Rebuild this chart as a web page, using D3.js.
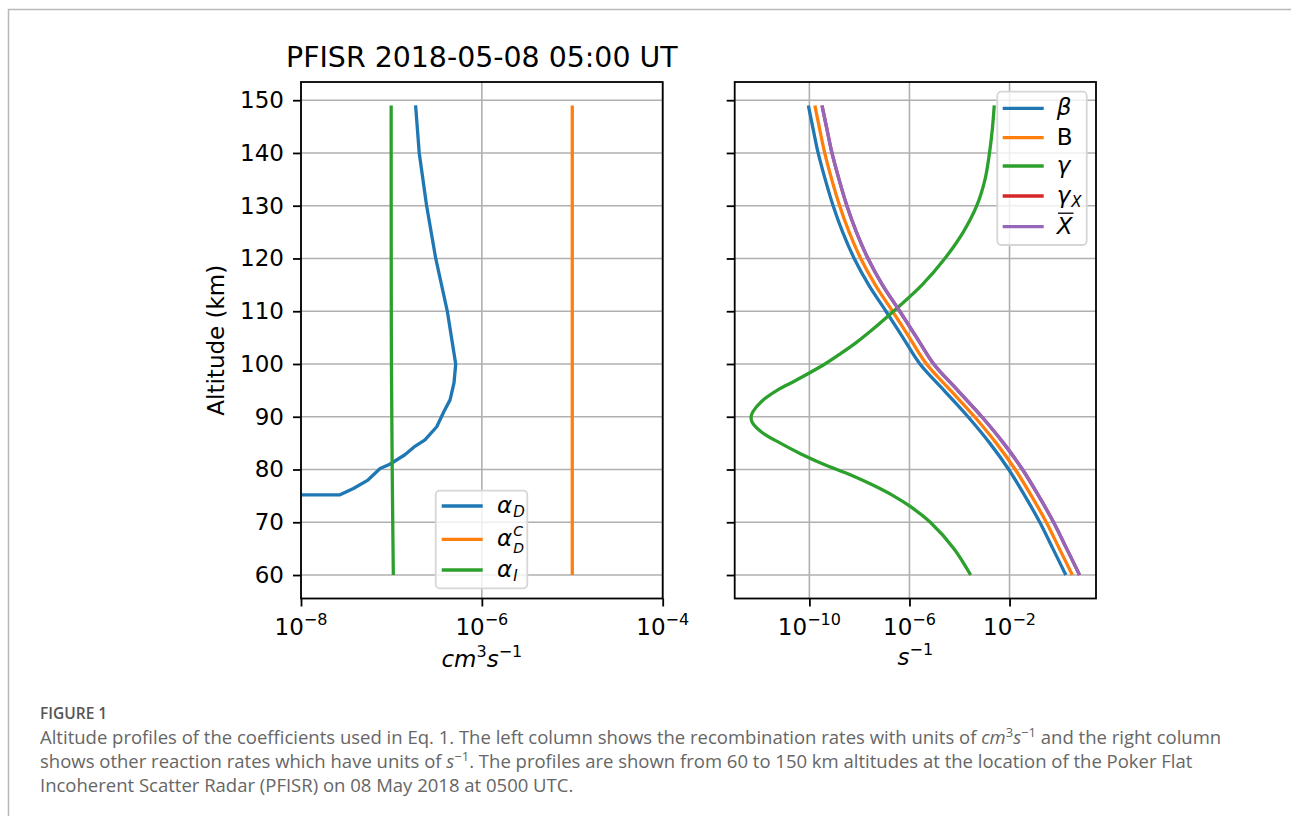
<!DOCTYPE html>
<html>
<head>
<meta charset="utf-8">
<script src="https://cdn.jsdelivr.net/npm/d3@7"></script>
<style>
body { margin: 0; background: #fff; }
svg text { font-family: "DejaVu Sans", sans-serif; }
</style>
</head>
<body>
<svg width="1291" height="816"></svg>
<script>
// ---- data ----
// left panel, recombination rates (cm^3 s^-1)
var altAlphaD = [149, 140, 130, 120, 110, 100, 96.4, 93.2, 91, 88.1, 85.6, 84.4, 82.8, 81, 80.2, 78, 76.4, 75.2, 75, 60];
var alphaD = [1.85e-7, 2.03e-7, 2.45e-7, 3.09e-7, 4.15e-7, 5.14e-7, 4.92e-7, 4.45e-7, 3.81e-7, 3.17e-7,
              2.35e-7, 1.82e-7, 1.41e-7, 9.6e-8, 7.5e-8, 5.5e-8, 3.8e-8, 2.7e-8, 0, 0];
var altAlphaDC = [149, 60];
var alphaDC = [1e-5, 1e-5];
var altAlphaI = [149, 120, 100, 80, 60];
var alphaI = [9.93e-8, 9.95e-8, 1.0e-7, 1.02e-7, 1.05e-7];

// right panel, other reaction rates (s^-1)
var altRates = [149, 145, 140, 135, 130, 125, 120, 115, 110, 105, 100, 95, 90, 85, 80, 75, 70, 65, 60];
var beta = [9.1e-11, 1.35e-10, 2.24e-10, 4.3e-10, 8.9e-10, 2.14e-9, 6.2e-9, 2.34e-8, 1.15e-7, 5.5e-7,
            2.63e-6, 2.4e-5, 2.19e-4, 1.62e-3, 9.3e-3, 4.1e-2, 0.162, 0.54, 1.78];
var bigB = [1.66e-10, 2.46e-10, 4.1e-10, 7.8e-10, 1.62e-9, 3.9e-9, 1.13e-8, 4.3e-8, 2.1e-7, 1.0e-6,
            4.8e-6, 4.4e-5, 4.0e-4, 2.95e-3, 1.69e-2, 7.5e-2, 0.295, 0.98, 3.24];
var gammaX = [3.2e-10, 4.8e-10, 8.0e-10, 1.53e-9, 3.16e-9, 7.6e-9, 2.2e-8, 8.3e-8, 4.1e-7, 1.95e-6,
              9.3e-6, 8.5e-5, 7.8e-4, 5.75e-3, 3.3e-2, 0.146, 0.575, 1.92, 6.3];
var xBar = [3.2e-10, 4.8e-10, 8.0e-10, 1.53e-9, 3.16e-9, 7.6e-9, 2.2e-8, 8.3e-8, 4.1e-7, 1.95e-6,
            9.3e-6, 8.5e-5, 7.8e-4, 5.75e-3, 3.3e-2, 0.146, 0.575, 1.92, 6.3];
var altGamma = [149, 145, 140, 135, 130, 125, 120, 115, 110, 106, 104, 102, 100, 97, 95, 93, 91, 90, 89, 87, 85, 83, 81, 79, 77, 75, 73, 70, 65, 60];
var gamma = [2.45e-3, 2.1e-3, 1.58e-3, 1.05e-3, 4.9e-4, 1.41e-4, 2.6e-5, 3.2e-6, 2.3e-7, 2.45e-8, 7.2e-9, 1.82e-9,
             4.2e-10, 3.2e-11, 5.1e-12, 1.29e-12, 5.6e-13, 4.7e-13, 5.1e-13, 1.29e-12, 6.9e-12, 4.4e-11, 3.7e-10,
             4.3e-9, 3.6e-8, 2.3e-7, 1.07e-6, 6.8e-6, 6.0e-5, 2.8e-4];

var altTicks = [60, 70, 80, 90, 100, 110, 120, 130, 140, 150];
var leftXTicks = [1e-8, 1e-6, 1e-4];
var rightXTicks = [1e-10, 1e-6, 1e-2];

var colors = { blue: '#1f77b4', orange: '#ff7f0e', green: '#2ca02c', red: '#d62728', purple: '#9467bd' };

// ---- layout ----
var svg = d3.select('svg');
var yTop = 82, yBot = 598.5;

// figure frame (page border)
svg.append('path')
    .attr('d', 'M8.5,816 V9.5 H1291')
    .attr('fill', 'none')
    .attr('stroke', '#b8b8b8')
    .attr('stroke-width', 1.5);

// y limits like matplotlib: data range + 5% margins
var altExt = d3.extent(altAlphaD.concat(altRates, altGamma));
var altPad = (altExt[1] - altExt[0]) * 0.05;
var yScale = d3.scaleLinear()
    .domain([altExt[0] - altPad, altExt[1] + altPad])
    .range([yBot, yTop]);

var xLeft = d3.scaleLog().domain([1e-8, 1e-4]).range([301, 662.7]);

var rightVals = beta.concat(bigB, gamma, gammaX, xBar);
var lo = Math.log10(d3.min(rightVals)), hi = Math.log10(d3.max(rightVals));
var lpad = (hi - lo) * 0.05;
var xRight = d3.scaleLog()
    .domain([Math.pow(10, lo - lpad), Math.pow(10, hi + lpad)])
    .range([734.7, 1096]);

function drawAxes(xScale, xTicks, showYLabels, id) {
    var x0 = xScale.range()[0], x1 = xScale.range()[1];
    var g = svg.append('g');

    // clip for the data
    svg.append('clipPath').attr('id', id)
        .append('rect').attr('x', x0).attr('y', yTop).attr('width', x1 - x0).attr('height', yBot - yTop);

    // grid
    g.selectAll('.hgrid').data(altTicks).enter().append('line')
        .attr('class', 'hgrid')
        .attr('x1', x0).attr('x2', x1)
        .attr('y1', d => yScale(d)).attr('y2', d => yScale(d))
        .attr('stroke', '#b0b0b0').attr('stroke-width', 1.6);
    g.selectAll('.vgrid').data(xTicks).enter().append('line')
        .attr('class', 'vgrid')
        .attr('x1', d => xScale(d)).attr('x2', d => xScale(d))
        .attr('y1', yTop).attr('y2', yBot)
        .attr('stroke', '#b0b0b0').attr('stroke-width', 1.6);

    // y ticks
    var yAxis = d3.axisLeft(yScale).tickValues(altTicks).tickSize(8).tickPadding(9)
        .tickFormat(showYLabels ? d3.format('d') : '');
    var ya = g.append('g').attr('transform', 'translate(' + x0 + ',0)').call(yAxis);
    ya.select('.domain').remove();
    ya.selectAll('line').attr('stroke', '#000').attr('stroke-width', 1.8);
    ya.selectAll('text')
        .style('font-size', '23px')
        .style('font-family', '"DejaVu Sans", sans-serif')
        .attr('fill', '#000');

    // x ticks
    var xAxis = d3.axisBottom(xScale).tickValues(xTicks).tickSize(8).tickFormat('');
    var xa = g.append('g').attr('transform', 'translate(0,' + yBot + ')').call(xAxis);
    xa.select('.domain').remove();
    xa.selectAll('line').attr('stroke', '#000').attr('stroke-width', 1.8);

    // 10^n labels
    xTicks.forEach(function(d) {
        var e = Math.round(Math.log10(d));
        var t = g.append('text')
            .attr('x', xScale(d))
            .attr('y', 635)
            .attr('text-anchor', 'middle')
            .style('font-size', '23px')
            .attr('fill', '#000');
        t.append('tspan').text('10');
        t.append('tspan').attr('dy', -10).style('font-size', '16px').text('\u2212' + Math.abs(e));
    });
    return g;
}

function drawSpines(xScale) {
    var x0 = xScale.range()[0], x1 = xScale.range()[1];
    svg.append('rect')
        .attr('x', x0).attr('y', yTop)
        .attr('width', x1 - x0).attr('height', yBot - yTop)
        .attr('fill', 'none')
        .attr('stroke', '#000')
        .attr('stroke-width', 1.8);
}

function drawSeries(xScale, alts, vals, color, clipId, curve) {
    var pts = alts.map((a, i) => ({ alt: a, v: vals[i] }));
    var line = d3.line()
        .x(d => xScale(Math.max(d.v, 1e-300)))   // non-positive values clipped like a log axis does
        .y(d => yScale(d.alt))
        .curve(curve || d3.curveLinear);
    svg.append('path')
        .datum(pts)
        .attr('d', line)
        .attr('clip-path', 'url(#' + clipId + ')')
        .attr('fill', 'none')
        .attr('stroke', color)
        .attr('stroke-width', 3.3)
        .attr('stroke-linejoin', 'round');
}

// ---- left panel ----
drawAxes(xLeft, leftXTicks, true, 'clipL');
drawSeries(xLeft, altAlphaD, alphaD, colors.blue, 'clipL');
drawSeries(xLeft, altAlphaDC, alphaDC, colors.orange, 'clipL');
drawSeries(xLeft, altAlphaI, alphaI, colors.green, 'clipL', d3.curveCatmullRom);
drawSpines(xLeft);

// ---- right panel ----
drawAxes(xRight, rightXTicks, false, 'clipR');
drawSeries(xRight, altRates, beta, colors.blue, 'clipR', d3.curveCatmullRom);
drawSeries(xRight, altRates, bigB, colors.orange, 'clipR', d3.curveCatmullRom);
drawSeries(xRight, altGamma, gamma, colors.green, 'clipR', d3.curveCatmullRom);
drawSeries(xRight, altRates, gammaX, colors.red, 'clipR', d3.curveCatmullRom);
drawSeries(xRight, altRates, xBar, colors.purple, 'clipR', d3.curveCatmullRom);
drawSpines(xRight);

// ---- titles & labels ----
var lc = (xLeft.range()[0] + xLeft.range()[1]) / 2;
var rc = (xRight.range()[0] + xRight.range()[1]) / 2;

svg.append('text')
    .attr('x', lc).attr('y', 67)
    .attr('text-anchor', 'middle')
    .style('font-size', '28.4px')
    .text('PFISR 2018-05-08 05:00 UT');

svg.append('text')
    .attr('transform', 'translate(224,' + ((yTop + yBot) / 2) + ') rotate(-90)')
    .attr('text-anchor', 'middle')
    .style('font-size', '23px')
    .text('Altitude (km)');

var xl = svg.append('text')
    .attr('x', lc).attr('y', 667)
    .attr('text-anchor', 'middle')
    .style('font-size', '23px');
xl.append('tspan').style('font-style', 'italic').text('cm');
xl.append('tspan').attr('dy', -10).style('font-size', '16px').text('3');
xl.append('tspan').attr('dy', 10).style('font-style', 'italic').text('s');
xl.append('tspan').attr('dy', -10).style('font-size', '16px').text('\u22121');

var xr = svg.append('text')
    .attr('x', rc).attr('y', 665)
    .attr('text-anchor', 'middle')
    .style('font-size', '23px');
xr.append('tspan').style('font-style', 'italic').text('s');
xr.append('tspan').attr('dy', -10).style('font-size', '16px').text('\u22121');

// ---- legends ----
function legendBox(x, y, w, h) {
    svg.append('rect')
        .attr('x', x).attr('y', y).attr('width', w).attr('height', h)
        .attr('rx', 4)
        .attr('fill', '#fff').attr('fill-opacity', 0.8)
        .attr('stroke', '#d6d6d6').attr('stroke-width', 1.8);
}
function legendLine(x, y, color) {
    svg.append('line')
        .attr('x1', x).attr('x2', x + 41)
        .attr('y1', y).attr('y2', y)
        .attr('stroke', color).attr('stroke-width', 3.3);
}
function mathLabel(x, y, main, italic, sub, sup) {
    var t = svg.append('text').attr('x', x).attr('y', y + 7).style('font-size', '23px');
    t.append('tspan').style('font-style', italic ? 'italic' : 'normal').text(main);
    var w = t.node().getComputedTextLength();
    if (sup) {
        svg.append('text').attr('x', x + w + 1).attr('y', y - 3)
            .style('font-size', '14px').style('font-style', 'italic').text(sup);
    }
    if (sub) {
        svg.append('text').attr('x', x + w + 1).attr('y', y + (sup ? 13.5 : 11))
            .style('font-size', sup ? '14px' : '15px').style('font-style', 'italic').text(sub);
    }
    return t;
}

var leftLegend = [
    { color: colors.blue, main: '\u03b1', sub: 'D', y: 506 },
    { color: colors.orange, main: '\u03b1', sub: 'D', sup: 'C', y: 539.3 },
    { color: colors.green, main: '\u03b1', sub: 'I', y: 570 }
];
legendBox(435.7, 490.7, 91.6, 97.6);
leftLegend.forEach(function(d) {
    legendLine(441.7, d.y, d.color);
    mathLabel(497, d.y, d.main, true, d.sub, d.sup);
});

var rightLegend = [
    { color: colors.blue, main: '\u03b2', italic: true, y: 108.3 },
    { color: colors.orange, main: 'B', italic: false, y: 137.7 },
    { color: colors.green, main: '\u03b3', italic: true, y: 166 },
    { color: colors.red, main: '\u03b3', italic: true, sub: 'X', y: 196 },
    { color: colors.purple, main: 'X', italic: true, bar: true, y: 226.7 }
];
legendBox(997.3, 91.7, 89.4, 153.3);
rightLegend.forEach(function(d) {
    legendLine(1002.7, d.y, d.color);
    var t = mathLabel(1056.7, d.y, d.main, d.italic, d.sub);
    if (d.bar) {
        var w = t.node().getComputedTextLength();
        svg.append('line')
            .attr('x1', 1058).attr('x2', 1056.7 + w + 1)
            .attr('y1', d.y - 13.5).attr('y2', d.y - 13.5)
            .attr('stroke', '#000').attr('stroke-width', 1.3);
    }
});

// ---- caption ----
var capFont = '"Open Sans", Lato, sans-serif';
var cap = svg.append('g').attr('fill', '#666');
cap.append('text').attr('x', 40).attr('y', 719)
    .style('font-family', capFont)
    .style('font-size', '15.5px').style('font-weight', 600).attr('fill', '#555')
    .text('FIGURE 1');

var l1 = cap.append('text').attr('x', 40).attr('y', 744).style('font-family', capFont).style('font-size', '18.5px');
l1.append('tspan').text('Altitude profiles of the coefficients used in Eq. 1. The left column shows the recombination rates with units of ');
l1.append('tspan').style('font-style', 'italic').text('cm');
l1.append('tspan').attr('dy', -7).style('font-size', '13px').text('3');
l1.append('tspan').attr('dy', 7).style('font-style', 'italic').text('s');
l1.append('tspan').attr('dy', -7).style('font-size', '13px').text('\u22121');
l1.append('tspan').attr('dy', 7).text(' and the right column');

var l2 = cap.append('text').attr('x', 40).attr('y', 768).style('font-family', capFont).style('font-size', '18.5px');
l2.append('tspan').text('shows other reaction rates which have units of ');
l2.append('tspan').style('font-style', 'italic').text('s');
l2.append('tspan').attr('dy', -7).style('font-size', '13px').text('\u22121');
l2.append('tspan').attr('dy', 7).text('. The profiles are shown from 60 to 150 km altitudes at the location of the Poker Flat');

cap.append('text').attr('x', 40).attr('y', 792).style('font-family', capFont).style('font-size', '18.5px')
    .text('Incoherent Scatter Radar (PFISR) on 08 May 2018 at 0500 UTC.');
</script>
</body>
</html>
